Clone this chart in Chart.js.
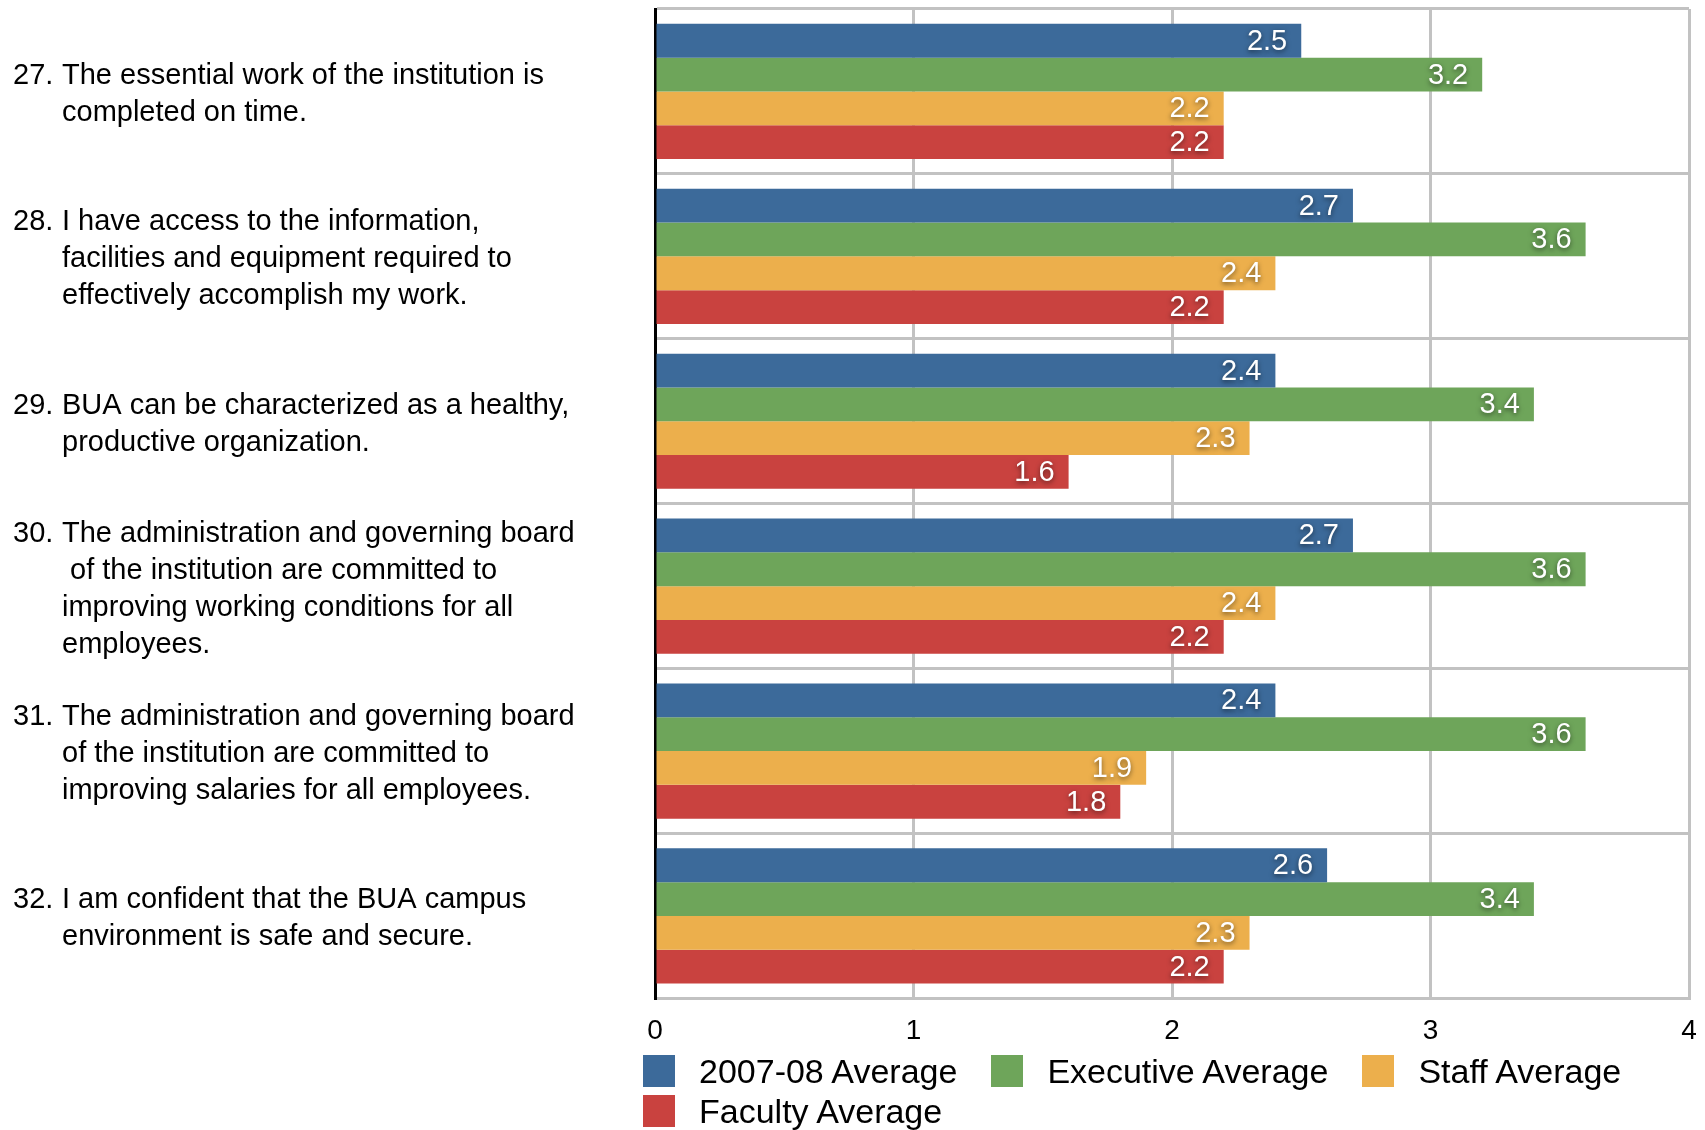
<!DOCTYPE html>
<html>
<head>
<meta charset="utf-8">
<script src="https://cdn.jsdelivr.net/npm/chart.js@4/dist/chart.umd.min.js"></script>
<style>
  html, body { margin: 0; background: #fff; overflow: hidden; font-family: "Liberation Sans", Arial, sans-serif; }
  #wrap { position: absolute; left: 0; top: 0; width: 1705px; height: 1052px; }
  #legend { position: absolute; left: 643px; top: 1051px; width: 1062px; display: flex; flex-wrap: wrap; }
  .item { display: flex; align-items: center; height: 40px; margin-right: 34px; font-size: 34px; color: #000; white-space: nowrap; }
  .box { width: 32px; height: 32px; margin-right: 24px; }
</style>
</head>
<body>
<div id="wrap"><canvas id="surveyChart"></canvas></div>
<div id="legend"></div>
<script>
const questionNumbers = ["27.", "28.", "29.", "30.", "31.", "32."];
const questionLines = [
  ["The essential work of the institution is", "completed on time."],
  ["I have access to the information,", "facilities and equipment required to", "effectively accomplish my work."],
  ["BUA can be characterized as a healthy,", "productive organization."],
  ["The administration and governing board", " of the institution are committed to", "improving working conditions for all", "employees."],
  ["The administration and governing board", "of the institution are committed to", "improving salaries for all employees."],
  ["I am confident that the BUA campus", "environment is safe and secure."]
];
const seriesNames = ["2007-08 Average", "Executive Average", "Staff Average", "Faculty Average"];
const seriesColors = ["#3c6a9a", "#6ea55a", "#ecaf4c", "#c9423f"];
const avg0708 = [2.5, 2.7, 2.4, 2.7, 2.4, 2.6];
const executiveAvg = [3.2, 3.6, 3.4, 3.6, 3.6, 3.4];
const staffAvg = [2.2, 2.4, 2.3, 2.4, 1.9, 2.3];
const facultyAvg = [2.2, 2.2, 1.6, 2.2, 1.8, 2.2];
const xTicks = [0, 1, 2, 3, 4];

const gridGray = "#c2c2c2";

// white value labels at the bar ends
const barValues = {
  id: "barValues",
  afterDatasetsDraw(chart) {
    const ctx = chart.ctx;
    ctx.save();
    ctx.font = "29px 'Liberation Sans', Arial, sans-serif";
    ctx.fillStyle = "#fff";
    ctx.textAlign = "right";
    ctx.textBaseline = "middle";
    ctx.shadowColor = "rgba(0,0,0,0.55)";
    ctx.shadowBlur = 5;
    ctx.shadowOffsetY = 2;
    chart.data.datasets.forEach((ds, i) => {
      chart.getDatasetMeta(i).data.forEach((bar, j) => {
        ctx.fillText(ds.data[j].toFixed(1), bar.x - 14, bar.y + 1);
      });
    });
    ctx.restore();
  }
};

// question text on the left with hanging indent
const questionText = {
  id: "questionText",
  afterDraw(chart) {
    const ctx = chart.ctx;
    const y = chart.scales.y;
    const lineH = 37;
    ctx.save();
    ctx.font = "29px 'Liberation Sans', Arial, sans-serif";
    ctx.fillStyle = "#000";
    ctx.textAlign = "left";
    ctx.textBaseline = "middle";
    questionLines.forEach((lines, i) => {
      const mid = y.getPixelForValue(i) + 3;
      const top = mid - (lines.length - 1) * lineH / 2;
      ctx.fillText(questionNumbers[i], 13, top);
      lines.forEach((t, k) => ctx.fillText(t, 62, top + k * lineH));
    });
    ctx.restore();
  }
};

const ctx = document.getElementById("surveyChart").getContext("2d");
const chart = new Chart(ctx, {
  type: "bar",
  data: {
    labels: questionNumbers,
    datasets: [avg0708, executiveAvg, staffAvg, facultyAvg].map((vals, i) => ({
      label: seriesNames[i],
      data: vals,
      backgroundColor: seriesColors[i],
      borderWidth: 0,
      barPercentage: 1,
      categoryPercentage: 0.82
    }))
  },
  options: {
    indexAxis: "y",
    responsive: true,
    maintainAspectRatio: false,
    animation: false,
    layout: {
      padding: { left: 655, right: 16, top: 9, bottom: 4 }
    },
    plugins: {
      legend: { display: false },
      tooltip: { enabled: false }
    },
    scales: {
      x: {
        min: 0,
        max: 4,
        afterBuildTicks: axis => { axis.ticks = xTicks.map(v => ({ value: v })); },
        grid: { color: gridGray, lineWidth: 3, drawTicks: true, tickLength: 16, tickColor: "rgba(0,0,0,0)" },
        border: { color: gridGray, width: 3 },
        ticks: {
          color: "#000",
          padding: 0,
          font: { family: "'Liberation Sans', Arial, sans-serif", size: 28 }
        }
      },
      y: {
        grid: { color: gridGray, lineWidth: 3, offset: true, drawTicks: false },
        border: { color: "#000", width: 3 },
        ticks: { display: false }
      }
    }
  },
  plugins: [barValues, questionText]
});

// legend built from the datasets
const legendEl = document.getElementById("legend");
chart.data.datasets.forEach(ds => {
  const item = document.createElement("div");
  item.className = "item";
  const box = document.createElement("span");
  box.className = "box";
  box.style.background = ds.backgroundColor;
  item.appendChild(box);
  item.appendChild(document.createTextNode(ds.label));
  legendEl.appendChild(item);
});
</script>
</body>
</html>
